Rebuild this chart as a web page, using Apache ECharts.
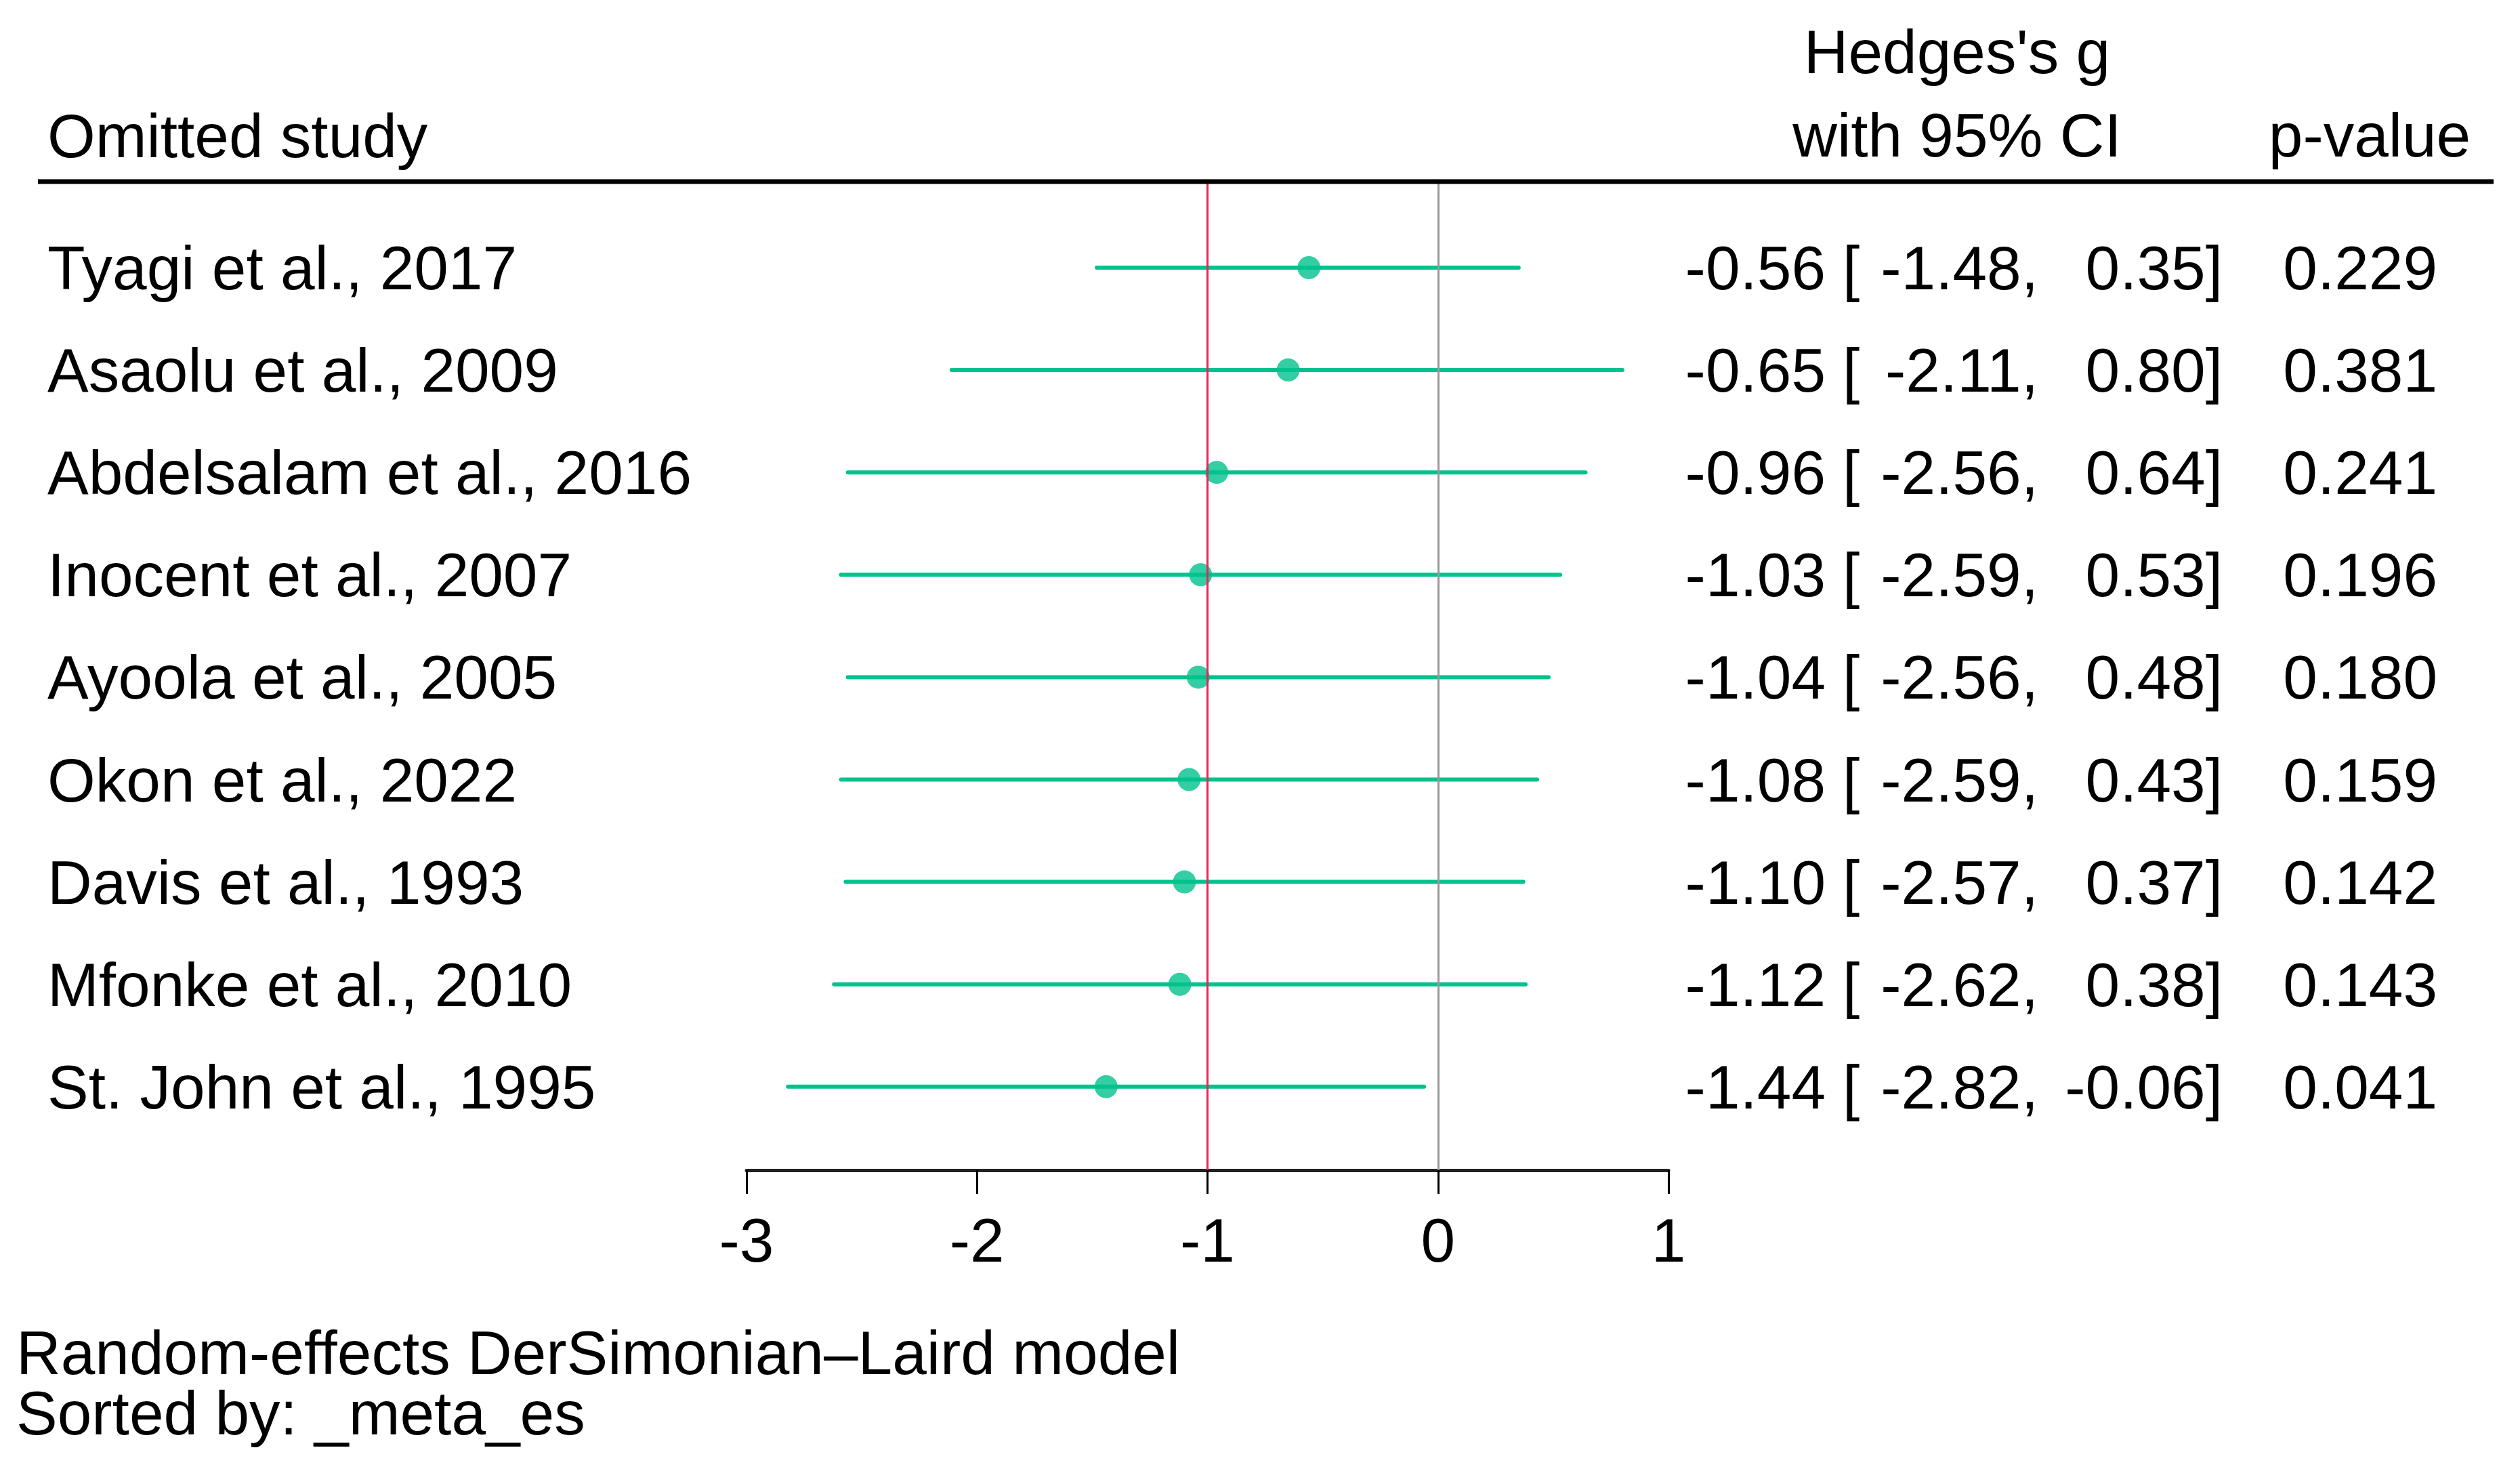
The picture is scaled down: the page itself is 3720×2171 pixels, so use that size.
<!DOCTYPE html>
<html>
<head>
<meta charset="utf-8">
<script src="https://cdn.jsdelivr.net/npm/echarts@6/dist/echarts.min.js"></script>
<style>
html,body{margin:0;padding:0;background:#fff;}
#chart{width:3720px;height:2171px;}
</style>
</head>
<body>
<div id="chart"></div>
<script>
const studies = ['Tyagi et al., 2017','Asaolu et al., 2009','Abdelsalam et al., 2016','Inocent et al., 2007','Ayoola et al., 2005','Okon et al., 2022','Davis et al., 1993','Mfonke et al., 2010','St. John et al., 1995'];
const effect = [-0.56,-0.65,-0.96,-1.03,-1.04,-1.08,-1.10,-1.12,-1.44];
const ciLow  = [-1.48,-2.11,-2.56,-2.59,-2.56,-2.59,-2.57,-2.62,-2.82];
const ciHigh = [0.35,0.80,0.64,0.53,0.48,0.43,0.37,0.38,-0.06];
const pValues = ['0.229','0.381','0.241','0.196','0.180','0.159','0.142','0.143','0.041'];
const xTicks = [-3,-2,-1,0,1];
const overallEffect = -1;
const nullLine = 0;

const FONT = 'Liberation Sans, Arial, Helvetica, sans-serif';
const FS = 91;
const DY = 7;
const GREEN = '#00c28c';
const RED = '#e8245a';
const GREY = '#999999';

const chart = echarts.init(document.getElementById('chart'), null, {renderer:'canvas'});

function txt(text, x, y, align){
  return {type:'text', x:x, y:y + DY, style:{text:text, fill:'#000', fontSize:FS, fontFamily:FONT, align:align, verticalAlign:'middle'}};
}
function gtxt(text, x, y, align){
  return {type:'text', x:x, y:y + DY, style:{text:text, fill:'#000', fontSize:FS, fontFamily:FONT, align:align, verticalAlign:'middle'}};
}

const option = {
  backgroundColor:'#fff',
  animation:false,
  grid:{left:1102, width:1361, top:268, height:1459},
  xAxis:{
    type:'value', min:-3, max:1, interval:1,
    axisLine:{show:true, onZero:false, lineStyle:{color:'#222', width:5}},
    axisTick:{show:true, length:35, lineStyle:{color:'#000', width:3}},
    axisLabel:{show:true, color:'#000', fontSize:FS, fontFamily:FONT, margin:103 + DY, verticalAlign:'middle',
      formatter:function(v){return xTicks.indexOf(v)>=0 ? String(v) : '';}},
    splitLine:{show:false}
  },
  yAxis:{
    type:'value', inverse:true, min:-0.84, max:8.815,
    show:false
  },
  graphic:[
    {type:'line', shape:{x1:56, y1:268, x2:3681, y2:268}, style:{stroke:'#000', lineWidth:7}, z:10},
    gtxt('Omitted study', 70, 200, 'left'),
    gtxt("Hedges's g", 2889, 76, 'center'),
    gtxt('with 95% CI', 2889, 199, 'center'),
    gtxt('p-value', 3498, 199, 'center'),
    gtxt('Random-effects DerSimonian\u2013Laird model', 24, 1996, 'left'),
    gtxt('Sorted by: _meta_es', 24, 2085, 'left')
  ],
  series:[
    {
      type:'line', data:[], silent:true, z:1,
      markLine:{
        silent:true, symbol:'none', animation:false,
        label:{show:false},
        data:[
          {xAxis:overallEffect, lineStyle:{color:RED, width:3, type:'solid'}},
          {xAxis:nullLine, lineStyle:{color:GREY, width:3, type:'solid'}}
        ]
      }
    },
    {
      type:'custom', z:3, clip:false,
      data: studies.map((s,i)=>[ciLow[i], ciHigh[i], i]),
      encode:{x:[0,1], y:2},
      renderItem:function(params, api){
        const i = api.value(2);
        const p1 = api.coord([api.value(0), i]);
        const p2 = api.coord([api.value(1), i]);
        return {type:'line', shape:{x1:p1[0], y1:p1[1], x2:p2[0], y2:p2[1]},
          style:{stroke:GREEN, lineWidth:6, lineCap:'round'}};
      }
    },
    {
      type:'scatter', z:4,
      data: effect.map((e,i)=>[e,i]),
      symbol:'circle', symbolSize:34,
      itemStyle:{color:GREEN}
    },
    {
      type:'custom', z:5, clip:false,
      data: studies.map((s,i)=>[0, i]),
      encode:{x:0, y:1},
      renderItem:function(params, api){
        const i = api.value(1);
        const y = api.coord([0, i])[1];
        return {type:'group', children:[
          txt(studies[i], 70, y, 'left'),
          txt(effect[i].toFixed(2), 2695, y, 'right'),
          txt('[', 2720, y, 'left'),
          txt(ciLow[i].toFixed(2)+',', 3009, y, 'right'),
          txt(ciHigh[i].toFixed(2)+']', 3281, y, 'right'),
          txt(pValues[i], 3598, y, 'right')
        ]};
      }
    }
  ]
};
chart.setOption(option);
</script>
</body>
</html>
